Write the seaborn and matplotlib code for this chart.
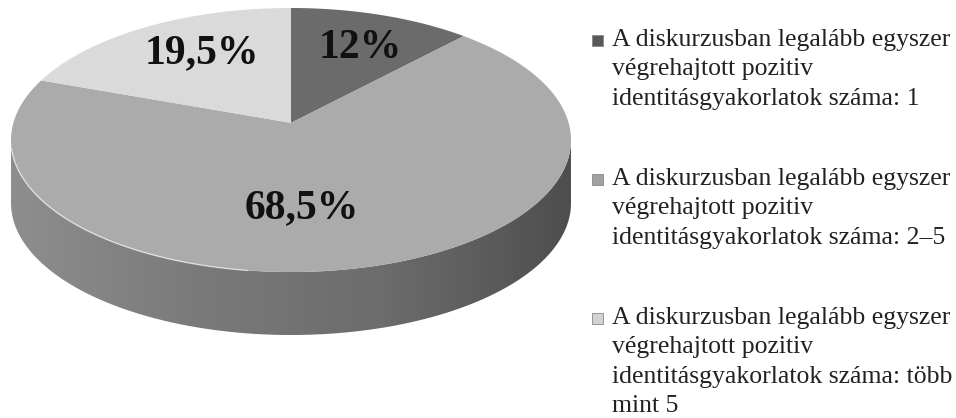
import numpy as np
import matplotlib
matplotlib.use("Agg")
import matplotlib.pyplot as plt
import seaborn as sns
from matplotlib.patches import Polygon, Rectangle
from matplotlib.colors import LinearSegmentedColormap

# ---------------- data ----------------
categories = [
    "A diskurzusban legalább egyszer\nvégrehajtott pozitiv\nidentitásgyakorlatok száma: 1",
    "A diskurzusban legalább egyszer\nvégrehajtott pozitiv\nidentitásgyakorlatok száma: 2\u20135",
    "A diskurzusban legalább egyszer\nvégrehajtott pozitiv\nidentitásgyakorlatok száma: több\nmint 5",
]
values = [12.0, 68.5, 19.5]
value_labels = ["12%", "68,5%", "19,5%"]

# ---------------- styles ----------------
top_colors = ["#6b6b6b", "#ababab", "#dadada"]
legend_colors = ["#585858", "#a2a2a2", "#d2d2d2"]
label_pos = [(0.246, 0.70), (0.04, -0.515), (-0.318, 0.655)]

sns.set_theme(style="white")
plt.rcParams["font.family"] = ["Liberation Serif", "DejaVu Serif"]

fig = plt.figure(figsize=(9.56, 4.18), dpi=100)
fig.patch.set_facecolor("white")

depth = 0.477      # side height in units of the minor semi-axis
vy = 0.13          # perspective offset of the pie centre
ax = fig.add_axes([11 / 956, (418 - 335) / 418, 560 / 956, 327 / 418])
ax.set_xlim(-1, 1)
ax.set_ylim(-1 - depth, 1)
ax.set_axis_off()


def ray_point(phi_deg):
    p = np.radians(phi_deg)
    d = np.array([np.sin(p), np.cos(p)])
    v = np.array([0.0, vy])
    vd = v @ d
    s = -vd + np.sqrt(vd ** 2 - (v @ v - 1))
    return v + s * d


# side of the cylinder (front half) with horizontal gradient
t = np.linspace(np.pi, 2 * np.pi, 300)
xs = np.cos(t)
ys = np.sin(t)
side_pts = np.vstack([np.column_stack([xs, ys]),
                      np.column_stack([xs[::-1], ys[::-1] - depth])])
side = Polygon(side_pts, closed=True, facecolor="none", edgecolor="none")
ax.add_patch(side)
cmap = LinearSegmentedColormap.from_list("side", ["#8e8e8e", "#7a7a7a", "#6c6c6c", "#4e4e4e"])
grad = np.linspace(0, 1, 256).reshape(1, -1)
im = ax.imshow(grad, extent=[-1, 1, -1 - depth, 0.05], cmap=cmap, aspect="auto",
               interpolation="bilinear", zorder=1)
im.set_clip_path(side)

# top face wedges from the data
fracs = np.array(values) / np.sum(values)
bounds = np.concatenate([[0], np.cumsum(fracs) * 360])
for i, col in enumerate(top_colors):
    phis = np.linspace(bounds[i], bounds[i + 1], 200)
    pts = np.array([ray_point(p) for p in phis])
    poly = np.vstack([[0, vy], pts])
    ax.add_patch(Polygon(poly, closed=True, facecolor=col, edgecolor="none", zorder=2))

# subtle highlight along the front edge of the top face
th = np.linspace(np.pi * 1.02, np.pi * 1.45, 100)
ax.plot(np.cos(th), np.sin(th), color="white", lw=1.0, alpha=0.6, zorder=3)

# value labels
for lab, (lx, ly) in zip(value_labels, label_pos):
    ax.text(lx, ly, lab, ha="center", va="center", fontsize=30,
            fontweight="bold", color="#111111", zorder=4)

# legend (manual, marker aligned with first line)
fs = 18.5
for i, (lab, col) in enumerate(zip(categories, legend_colors)):
    top_y = 418 - (29 + 139 * i)
    fig.text(612 / 956, top_y / 418, lab, ha="left", va="top",
             fontsize=fs, color="#222222", linespacing=1.43)
    fig.patches.append(Rectangle((592 / 956, (top_y - 17) / 418), 11 / 956, 11 / 418,
                                 transform=fig.transFigure, facecolor=col,
                                 edgecolor="#888888", lw=0.6))

fig.savefig("out.png", dpi=100, facecolor="white")
